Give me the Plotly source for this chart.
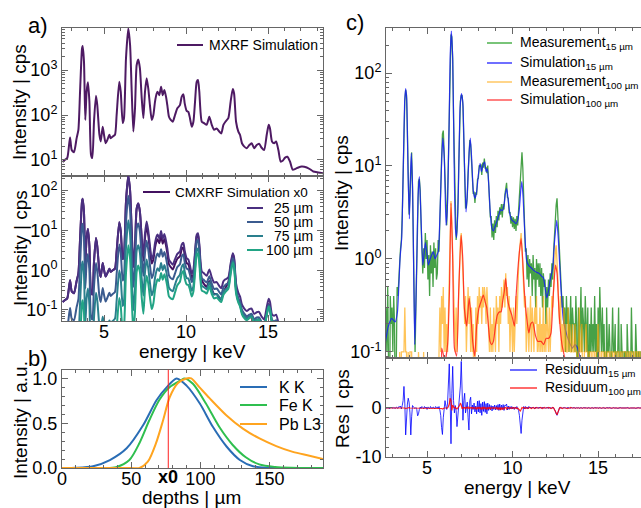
import plotly.graph_objects as go

# ---------------- Panel a (MXRF / CMXRF simulations) ----------------
energy_a = [2.48,2.62,2.76,2.93,3.03,3.17,3.33,3.44,3.54,3.66,
            3.70,3.78,3.86,3.94,4.02,4.11,4.21,4.29,4.39,4.51,
            4.59,4.72,4.80,4.92,5.00,5.10,5.20,5.33,5.41,5.53,
            5.67,5.77,5.93,6.02,6.14,6.22,6.34,6.48,6.59,6.69,
            6.79,6.89,6.99,7.09,7.19,7.30,7.40,7.50,7.60,7.70,
            7.80,7.91,8.01,8.11,8.21,8.27,8.37,8.48,8.58,8.68,
            8.78,8.86,8.96,9.07,9.19,9.33,9.47,9.63,9.74,9.84,
            9.92,10.04,10.14,10.24,10.35,10.45,10.55,10.65,10.73,10.81,
            10.96,11.10,11.26,11.42,11.57,11.71,11.87,12.03,12.15,12.28,
            12.40,12.58,12.72,12.85,12.93,13.05,13.19,13.29,13.41,13.54,
            13.70,13.86,14.00,14.15,14.31,14.45,14.61,14.76,14.92,15.04,
            15.12,15.24,15.37,15.49,15.63,15.77,15.89,16.04,16.18,16.34,
            16.50,16.67,16.85,17.05,17.36,17.56,17.76,18.07,18.37]

# log10 of intensity (cps)
mxrf_log = [0.95,1.00,1.04,1.50,1.22,1.17,1.48,1.67,2.52,3.48,
            3.54,3.19,1.89,2.52,2.73,2.30,1.11,1.04,1.85,2.43,
            2.22,1.56,1.41,1.74,1.56,1.37,1.44,1.56,1.48,1.52,
            1.56,2.00,2.74,2.52,1.82,1.93,3.26,3.93,3.56,2.52,
            1.63,2.15,3.11,3.24,3.04,2.37,1.93,2.52,2.82,2.59,
            2.22,1.89,2.00,2.30,2.48,2.52,2.44,2.63,2.44,2.56,
            2.41,2.22,1.96,1.89,1.85,2.00,2.15,2.22,2.41,2.46,
            2.26,2.09,2.07,1.93,1.74,1.85,2.30,2.74,2.78,2.52,
            1.85,1.82,1.78,1.96,1.78,1.67,1.70,1.63,1.59,1.78,
            1.85,1.93,2.30,2.58,2.48,1.85,1.63,1.56,1.37,1.30,
            1.26,1.33,1.37,1.26,1.33,1.36,1.27,1.22,1.56,1.78,
            1.70,1.41,1.37,1.41,1.22,0.96,0.98,1.05,1.07,0.96,
            0.78,0.80,0.83,0.85,0.83,0.79,0.74,0.72,0.70]

cm_x0_log = [-0.80,-0.75,-0.71,-0.25,-0.53,-0.58,-0.27,-0.08,0.77,1.73,
             1.80,1.46,0.17,0.82,1.04,0.62,-0.56,-0.61,0.21,0.81,
             0.61,-0.03,-0.17,0.18,0.01,-0.16,-0.08,0.04,-0.04,0.00,
             0.04,0.47,1.21,0.99,0.28,0.39,1.72,2.38,2.01,0.97,
             0.08,0.59,1.55,1.68,1.47,0.80,0.24,0.81,1.11,0.88,
             0.50,0.17,0.27,0.57,0.74,0.78,0.68,0.87,0.67,0.79,
             0.62,0.43,0.15,0.08,0.02,0.16,0.29,0.35,0.53,0.57,
             0.37,0.18,0.15,0.00,-0.20,-0.10,0.38,0.85,0.90,0.60,
             -0.25,-0.35,-0.42,-0.27,-0.47,-0.60,-0.60,-0.70,-0.74,-0.55,
             -0.45,-0.30,0.10,0.40,0.28,-0.45,-0.75,-0.85,-1.06,-1.15,
             -1.22,-1.17,-1.16,-1.30,-1.26,-1.25,-1.37,-1.44,-1.10,-0.85,
             -0.95,-1.30,-1.33,-1.30,-1.50,-1.75,-1.75,-1.70,-1.70,-1.80,
             -2.0,-2.0,-2.0,-2.0,-2.0,-2.0,-2.1,-2.1,-2.1]

cm25_log = [-0.80,-0.75,-0.71,-0.25,-0.53,-0.58,-0.27,-0.08,0.77,1.73,
            1.80,1.46,0.17,0.82,1.04,0.62,-0.56,-0.61,0.21,0.81,
            0.61,-0.03,-0.17,0.18,0.01,-0.16,-0.08,0.04,-0.04,0.00,
            0.04,0.47,1.21,0.99,0.28,0.39,1.72,2.38,2.01,0.97,
            0.08,0.59,1.55,1.68,1.47,0.80,0.36,0.93,1.23,1.00,
            0.62,0.29,0.39,0.69,0.86,0.90,0.80,0.99,0.79,0.91,
            0.74,0.55,0.27,0.20,0.14,0.28,0.41,0.47,0.65,0.69,
            0.49,0.30,0.27,0.12,-0.08,0.02,0.46,0.89,0.93,0.66,
            -0.03,-0.08,-0.14,0.02,-0.18,-0.31,-0.30,-0.40,-0.45,-0.28,
            -0.23,-0.18,0.17,0.43,0.32,-0.33,-0.57,-0.66,-0.87,-0.96,
            -1.03,-0.98,-0.97,-1.10,-1.06,-1.05,-1.17,-1.24,-0.93,-0.72,
            -0.80,-1.11,-1.15,-1.12,-1.32,-1.60,-1.58,-1.52,-1.51,-1.63,
            -1.82,-1.81,-1.79,-1.78,-1.82,-1.87,-1.93,-1.96,-2.00]

cm50_log = [-1.55,-1.49,-1.43,-0.95,-1.22,-1.26,-0.93,-0.73,0.13,1.11,
            1.17,0.83,-0.46,0.19,0.41,-0.01,-1.18,-1.24,-0.42,0.18,
            -0.02,-0.66,-0.80,-0.45,-0.62,-0.79,-0.70,-0.57,-0.65,-0.60,
            -0.55,-0.10,0.65,0.44,-0.26,-0.14,1.20,1.88,1.51,0.47,
            -0.42,0.09,1.05,1.18,0.97,0.30,-0.14,0.44,0.74,0.51,
            0.13,-0.20,-0.09,0.20,0.38,0.42,0.34,0.53,0.34,0.46,
            0.31,0.13,-0.13,-0.20,-0.23,-0.08,0.08,0.15,0.35,0.40,
            0.20,0.04,0.02,-0.11,-0.30,-0.18,0.27,0.72,0.76,0.49,
            -0.20,-0.25,-0.31,-0.15,-0.34,-0.47,-0.46,-0.55,-0.61,-0.43,
            -0.37,-0.32,0.04,0.30,0.19,-0.46,-0.71,-0.79,-1.00,-1.09,
            -1.16,-1.12,-1.10,-1.24,-1.19,-1.19,-1.31,-1.39,-1.08,-0.87,
            -0.95,-1.25,-1.29,-1.26,-1.45,-1.72,-1.70,-1.64,-1.62,-1.74,
            -1.93,-1.92,-1.90,-1.89,-1.93,-1.98,-2.04,-2.07,-2.10]

cm75_log = [-2.65,-2.57,-2.50,-2.00,-2.26,-2.28,-1.93,-1.71,-0.84,0.15,
            0.22,-0.10,-1.37,-0.70,-0.46,-0.86,-2.01,-2.05,-1.20,-0.57,
            -0.76,-1.40,-1.53,-1.17,-1.34,-1.50,-1.41,-1.27,-1.34,-1.28,
            -1.22,-0.77,-0.01,-0.22,-0.90,-0.78,0.57,1.26,0.90,-0.13,
            -1.01,-0.48,0.49,0.63,0.44,-0.22,-0.64,-0.04,0.27,0.05,
            -0.31,-0.63,-0.51,-0.19,0.00,0.05,-0.02,0.18,0.00,0.13,
            -0.01,-0.19,-0.44,-0.50,-0.53,-0.36,-0.20,-0.11,0.09,0.15,
            -0.04,-0.20,-0.21,-0.34,-0.52,-0.40,0.06,0.51,0.55,0.29,
            -0.39,-0.43,-0.48,-0.31,-0.50,-0.62,-0.60,-0.68,-0.73,-0.55,
            -0.49,-0.42,-0.05,0.22,0.11,-0.54,-0.78,-0.86,-1.07,-1.15,
            -1.22,-1.17,-1.15,-1.28,-1.24,-1.23,-1.35,-1.42,-1.11,-0.91,
            -0.99,-1.29,-1.33,-1.30,-1.49,-1.76,-1.74,-1.68,-1.66,-1.78,
            -1.97,-1.96,-1.94,-1.93,-1.97,-2.02,-2.08,-2.11,-2.14]

cm100_log = [-3.65,-3.57,-3.49,-2.99,-3.25,-3.26,-2.91,-2.70,-1.82,-0.83,
             -0.76,-1.07,-2.33,-1.66,-1.41,-1.80,-2.94,-2.97,-2.11,-1.47,
             -1.65,-2.27,-2.38,-2.00,-2.15,-2.29,-2.16,-2.01,-2.07,-2.01,
             -1.94,-1.48,-0.70,-0.90,-1.57,-1.44,-0.08,0.63,0.29,-0.72,
             -1.58,-1.03,-0.04,0.12,-0.05,-0.69,-1.10,-0.47,-0.14,-0.34,
             -0.68,-0.98,-0.84,-0.50,-0.29,-0.23,-0.27,-0.07,-0.24,-0.10,
             -0.24,-0.41,-0.66,-0.71,-0.73,-0.56,-0.38,-0.29,-0.08,-0.02,
             -0.21,-0.36,-0.37,-0.49,-0.66,-0.54,-0.07,0.38,0.43,0.17,
             -0.51,-0.54,-0.59,-0.41,-0.60,-0.71,-0.69,-0.76,-0.80,-0.62,
             -0.55,-0.47,-0.10,0.18,0.07,-0.58,-0.82,-0.91,-1.11,-1.20,
             -1.26,-1.21,-1.19,-1.32,-1.27,-1.26,-1.37,-1.44,-1.13,-0.92,
             -1.00,-1.30,-1.34,-1.31,-1.50,-1.78,-1.76,-1.70,-1.68,-1.80,
             -1.99,-1.98,-1.96,-1.95,-1.99,-2.04,-2.10,-2.13,-2.16]

# ---------------- Panel b (depth profiles) ----------------
depth_kk = [0,10,22.5,34.6,46.7,58.7,68.4,75.6,82.8,90,99.6,109,118.9,128.5,138,150,170,188.6]
int_kk = [0,0.002,0.02,0.089,0.22,0.48,0.76,0.90,1.0,0.92,0.72,0.46,0.24,0.09,0.02,0.003,0,0]
depth_fe = [0,30,39,48.7,56,63,70.3,77.5,86,88.5,94.6,104,113.6,123.2,132.8,142.5,154,166,188.6]
int_fe = [0,0,0.01,0.09,0.28,0.53,0.76,0.90,0.98,1.0,0.94,0.72,0.46,0.26,0.12,0.04,0.012,0.003,0]
depth_pb = [0,50,56,62,68,73,77.8,83.8,89.8,93.4,99.4,106.6,118.7,130.7,142.7,154.8,166.8,178.8,188.6]
int_pb = [0,0,0,0.07,0.28,0.53,0.79,0.95,1.0,1.0,0.90,0.78,0.59,0.44,0.33,0.245,0.18,0.137,0.10]
x0_depth = 76.8

# ---------------- Panel c (measurement vs simulation) ----------------
sim15_E = [2.54,2.74,2.93,3.13,3.27,3.42,3.52,3.62,3.69,3.75,
           3.81,3.89,3.97,4.03,4.08,4.16,4.22,4.28,4.34,4.40,
           4.47,4.55,4.65,4.75,4.82,4.90,4.98,5.08,5.18,5.27,
           5.37,5.47,5.57,5.66,5.76,5.86,5.92,6.01,6.11,6.19,
           6.29,6.35,6.42,6.50,6.58,6.66,6.73,6.83,6.93,7.01,
           7.09,7.18,7.28,7.36,7.46,7.53,7.61,7.71,7.81,7.90,
           8.00,8.10,8.18,8.27,8.37,8.45,8.53,8.61,8.68,8.78,
           8.88,9.00,9.10,9.20,9.30,9.40,9.50,9.58,9.66,9.75,
           9.85,9.97,10.10,10.20,10.30,10.40,10.48,10.54,10.62,10.72,
           10.83,10.95,11.10,11.25,11.40,11.55,11.70,11.80,11.90,12.00,
           12.10,12.20,12.35,12.45,12.58,12.68,12.80,12.97,13.10,13.30,
           13.50,13.65,13.80,14.00,14.30,15.00,16.00,17.60]
sim15_I = [0.12,0.19,0.23,0.21,0.27,1.0,1.7,12,49,68,
           53,8,2.7,8,13.7,5.3,0.67,0.12,0.3,1.0,
           4.5,7.7,2.7,0.86,1.1,1.5,1.2,0.86,1.0,1.1,
           1.2,1.0,1.1,1.2,3.2,12,20,12,2.3,3.5,
           28,144,282,144,12,2.1,1.7,5.3,42,60,
           49,12,3.2,5.3,14,20,12,5.3,4.5,5.3,
           8,10.7,8.7,10.2,11.1,8.7,9.4,6.2,3.5,2.2,
           2.0,2.3,2.6,3.0,3.4,3.3,3.8,5.0,5.7,4.2,
           3.0,2.6,2.5,2.4,2.6,3.5,5.5,6.8,4.5,1.8,
           0.95,0.85,0.80,0.75,0.72,0.70,0.65,0.63,0.50,0.38,
           0.45,0.60,0.80,1.5,2.6,1.6,0.6,0.22,0.17,0.13,
           0.11,0.12,0.11,0.08,0.06,0.05,0.04,0.04]

sim100_E = [2.60,5.70,5.86,6.05,6.20,6.31,6.40,6.50,6.60,6.73,
            6.85,6.99,7.09,7.18,7.32,7.46,7.55,7.67,7.79,7.90,
            8.04,8.16,8.29,8.39,8.49,8.59,8.68,8.78,8.88,9.00,
            9.11,9.23,9.33,9.42,9.52,9.60,9.70,9.81,9.95,10.11,
            10.20,10.36,10.50,10.59,10.69,10.83,10.95,11.06,11.18,11.34,
            11.47,11.67,11.82,11.96,12.12,12.25,12.39,12.51,12.60,12.74,
            12.89,13.03,13.17,13.40,17.60]
sim100_I = [0.02,0.03,0.11,0.08,0.12,0.45,4.0,1.0,0.11,0.09,
            0.45,1.8,1.0,0.30,0.19,0.38,0.27,0.13,0.09,0.19,
            0.30,0.35,0.41,0.35,0.30,0.19,0.13,0.12,0.13,0.19,
            0.25,0.27,0.27,0.35,0.45,0.62,0.38,0.30,0.25,0.19,
            0.38,1.0,1.66,1.0,0.45,0.23,0.16,0.20,0.21,0.15,
            0.13,0.13,0.12,0.14,0.14,0.16,0.44,0.86,0.70,0.23,
            0.12,0.09,0.07,0.05,0.03]

# measured channels: start 2.60 keV, step 0.05 keV (20 channels per row = 1 keV)
chan_start = 2.60
chan_step = 0.05
meas15 = [0.3,0.1,0.5,0.2,0,0.4,0.2,0.3,0.1,0.4,0.2,0,0.3,0.5,0.4,0.7,0.9,1.3,1.6,3.0,
          8.5,31,50,66,58,24,7.5,3.0,4.8,12,14,5.6,1.3,0.4,0.1,0.3,1.1,3.0,6.8,7.3,
          5.5,2.4,1.5,0.7,1.3,0.8,1.9,1.0,1.6,0.6,1.1,0.4,1.4,0.7,1.2,0.5,1.5,0.8,1.3,0.6,
          0.7,1.6,1.2,3.3,6.5,12,22,24,14,6.5,2.8,2.3,4.5,13,38,150,260,245,140,33,
          8.5,2.2,1.6,2.0,3.2,9.5,30,50,58,57,44,21,10,3.5,3.6,4.6,8.5,12.5,19,17,
          12,9.3,5.0,5.3,4.0,5.2,4.9,7.2,7.4,10.2,9.8,10.4,8.0,10.9,9.6,12,9.5,9.6,8.4,10.1,
          6.0,5.0,2.8,2.9,1.7,2.4,1.6,2.6,1.9,2.9,2.2,3.3,2.6,3.6,3.0,3.9,2.8,3.9,3.4,4.9,
          5.8,6.6,4.6,4.5,3.1,3.2,2.4,2.9,2.2,2.8,2.1,2.7,2.0,2.9,2.3,3.4,4.2,6.5,10,14,
          9.5,4.5,2.6,1.2,1.3,0.6,1.1,0.5,1.0,0.7,0.9,0.4,1.1,0.6,0.8,0.3,1.0,0.6,0.9,0.5,
          0.9,0.4,0.8,0.3,0.7,0.5,0.6,0.2,0.5,0.3,0.6,0.4,0.7,0.5,0.9,0.6,1.2,1.8,2.9,3.8,
          4.5,2.8,1.6,1.0,0.7,0.5,0.3,0.4,0.2,0.3,0.1,0.4,0.2,0.3,0.1,0.2,0.4,0.1,0.3,0.2,
          0.2,0.1,0.4,0.2,0,0.3,0.1,0.2,0.5,0.1,0.3,0.2,0.1,0.4,0.2,0.1,0.3,0,0.2,0.1,
          0.3,0.1,0.2,0.1,0.4,0.1,0.2,0,0.3,0.1,0.5,0.2,0.1,0.3,0.1,0.2,0.1,0,0.3,0.1,
          0.1,0.2,0.1,0,0.1,0.3,0.1,0.1,0.2,0,0.1,0.1,0.3,0.1,0,0.2,0.1,0.1,0,0.1,
          0.1,0,0.2,0.1,0.1,0,0.1,0.3,0.1,0.1,0,0.1,0.2,0.1,0,0.1,0.1,0,0.1,0.1]
meas100 = [0,0,0,0,0,0,0,0,0,0,0,0,0,0,0,0,0.1,0,0.1,0.1,
           0.1,0.1,0.3,0.1,0.1,0,0.1,0,0.1,0.1,0.1,0,0,0,0,0,0,0,0.1,0,
           0,0,0,0,0.1,0,0,0,0,0,0,0,0,0,0,0,0,0,0,0,
           0,0,0.1,0.3,0.1,0.4,0.2,0.5,0.1,0.3,0.1,0.2,0.1,0.3,0.5,2.2,4.2,2.5,1.1,0.4,
           0.2,0.1,0.3,0.1,0.2,0.5,0.9,1.6,1.9,1.2,0.8,0.4,0.2,0.4,0.1,0.3,0.5,0.2,0.4,0.1,
           0.3,0.1,0.2,0,0.1,0.3,0.1,0.4,0.2,0.5,0.3,0.4,0.2,0.5,0.3,0.5,0.4,0.2,0.5,0.3,
           0.2,0.1,0.3,0.1,0.2,0.1,0.3,0.2,0.1,0.4,0.2,0.3,0.1,0.4,0.2,0.5,0.3,0.4,0.6,0.3,
           0.7,0.4,0.5,0.2,0.4,0.1,0.3,0.2,0.1,0.3,0.1,0.2,0.4,0.2,0.5,0.8,1.2,1.6,1.9,1.3,
           0.9,0.5,0.3,0.4,0.1,0.2,0.3,0.1,0.2,0.4,0.1,0.3,0.2,0.1,0.3,0.2,0.4,0.1,0.2,0.1,
           0.3,0.1,0.2,0.1,0.4,0.1,0.2,0.1,0.3,0.2,0.1,0.3,0.1,0.2,0.4,0.3,0.5,0.8,1.2,1.4,
           1.0,0.6,0.3,0.2,0.4,0.1,0.2,0.1,0.3,0.1,0.2,0.1,0.1,0.3,0.1,0.2,0.1,0.1,0.2,0.1,
           0.1,0.2,0.1,0.1,0,0.1,0.3,0.1,0.1,0.2,0.1,0,0.1,0.1,0.2,0.1,0.1,0,0.1,0.1,
           0.1,0,0.1,0.1,0.1,0,0.1,0.1,0.2,0.1,0.1,0,0.1,0.1,0.1,0,0.1,0.1,0,0.1,
           0.1,0.1,0,0.1,0.1,0.1,0,0.1,0.1,0,0.1,0.1,0.1,0,0.1,0.1,0,0.1,0.1,0.1,
           0.1,0,0.1,0.1,0,0.1,0.1,0.1,0,0.1,0.1,0,0.1,0.1,0.1,0,0.1,0.1,0,0.1]
res15 = [0.1,-0.1,0.2,0,-0.2,0.1,0,0.2,-0.1,0.1,0,-0.1,0.2,0.1,-0.1,0.3,0.2,0.4,-0.2,0.5,
         1.5,4.4,1.0,-5.5,-1.5,0.8,2.0,1.2,-1.0,-5.5,-1.8,0.5,0.2,0.1,-0.1,0.1,-0.3,-1.6,-1.2,-0.3,
         0.2,-0.1,0.3,0.1,-0.2,0.3,0,0.2,-0.3,0.2,0.1,-0.2,0.3,0,-0.1,0.2,0.1,-0.2,0.3,0.1,
         0.2,-0.1,0.3,-0.4,-1.5,-4.0,-5.4,-2.0,0.8,1.5,0.4,-0.3,1.0,4.0,9.0,2.0,-7.3,3.0,8.5,1.5,
         -1.0,0.5,-0.5,-3.8,-1.2,0.8,2.0,4.5,9.5,3.0,-2.5,1.5,3.0,-1.0,0.5,1.2,-2.0,-4.5,1.5,2.2,
         -1.2,0.6,-0.3,1.0,-0.8,0.4,-1.2,1.4,-0.8,1.5,-1.0,0.9,-1.5,1.2,-0.7,1.3,-0.9,0.9,-1.2,1.0,
         -0.5,0.7,-0.4,0.5,-0.6,0.4,-0.3,0.6,-0.4,0.5,-0.3,0.7,-0.5,0.8,-0.4,0.6,-0.3,0.7,-0.5,0.6,
         0.5,0.8,-0.4,0.4,-0.3,0.3,-0.2,0.3,-0.2,0.2,-0.3,0.2,-0.1,0.3,-0.2,-0.5,-1.5,-3.5,-5.2,-2.5,
         -0.8,0.3,-0.2,0.3,-0.1,0.2,-0.2,0.3,0,0.2,-0.1,0.2,0,0.1,-0.2,0.2,0,0.1,-0.1,0.2,
         0,0.1,-0.1,0.2,0,0.1,-0.1,0.1,0,0.2,-0.1,0.1,0,0.1,-0.1,0.2,0,-0.2,-0.6,-1.2,
         -1.5,-1.0,-0.4,0.1,0,0.1,-0.1,0.1,0,0.1,0,-0.1,0.1,0,0.1,-0.1,0,0.1,0,0.1,
         0.1,0,-0.1,0.1,0,0.1,-0.1,0,0.1,0,-0.1,0.1,0,0,0.1,-0.1,0,0.1,0,-0.1,
         0,0.1,0,-0.1,0.1,0,0,0.1,-0.1,0,0.1,0,-0.1,0,0.1,0,0,-0.1,0.1,0,
         0,0.1,0,0,-0.1,0,0.1,0,0,0.1,0,-0.1,0,0,0.1,0,0,0,-0.1,0,
         0,0,0.1,0,0,-0.1,0,0,0.1,0,0,0,-0.1,0,0,0.1,0,0,0,0]
res100 = [0]*20 + \
         [0,0.1,0,-0.1,0,0,0,0.1,0,0,0,0,0,0,0,0,0,0,0,0] + [0]*20 + \
         [0,0,0,0,0,-0.1,-0.2,0,0,0,0,0,0,0.3,0.8,2.0,1.5,-0.5,0.6,0.2,
          0,0.1,0,-0.2,0,0.2,0.5,1.0,0.6,-0.2,0.1,0,0.1,-0.1,0.1,0,0.2,-0.2,0.1,0,
          0.1,-0.1,0.1,0,-0.1,0.1,-0.2,0.1,-0.1,0.2,-0.2,0.1,-0.3,0.2,-0.1,0.2,-0.2,0.1,-0.3,0.1,
          -0.1,0.1,-0.2,0.1,0,-0.1,0.1,0,-0.1,0.1,-0.2,0.1,-0.3,0.1,-0.4,0.1,-0.3,0,-0.2,0.1,
          0.1,-0.2,0.1,0,-0.1,0.1,0,-0.1,0.1,0,-0.1,0.1,0,-0.1,0,-0.2,-0.4,-0.6,-0.3,0.1,
          0,0.1,0,-0.1,0.1,0,-0.1,0,0.1,0,-0.1,0,0.1,0,-0.1,0,0.1,0,0,-0.1,
          0,0.1,0,-0.1,0,0.1,0,0,-0.1,0,0.1,0,0,-0.1,0,0.1,0,-0.3,-0.7,-1.2,
          -1.4,-0.9,-0.4,0,0.1,0,-0.1,0,0,0.1,0,0,-0.1,0,0,0,0.1,0,0,0] + [0]*80

chan_E = [round(chan_start + chan_step * i, 3) for i in range(len(meas15))]
floor = 0.01  # zero counts drawn below the log axis

# ---------------- Figure ----------------
W, H = 641, 508
def PX(x): return x / W
def PY(y): return 1 - y / H

FONT = "Liberation Sans, Arial, sans-serif"
FRAME = "#666666"
fig = go.Figure()

def tolin(v): return [10 ** a for a in v]

fig.add_trace(go.Scatter(x=energy_a, y=tolin(mxrf_log), mode="lines", line=dict(color="#4e1a63", width=2, shape="spline", smoothing=0.6), xaxis="x", yaxis="y", showlegend=False))
for vals, col in [(cm_x0_log, "#431160"), (cm25_log, "#4a2f80"), (cm50_log, "#3b5b8f"),
                  (cm75_log, "#2a7f8d"), (cm100_log, "#22a485")]:
    fig.add_trace(go.Scatter(x=energy_a, y=tolin(vals), mode="lines", line=dict(color=col, width=2, shape="spline", smoothing=0.6), xaxis="x2", yaxis="y2", showlegend=False))

for d, v, col in [(depth_kk, int_kk, "#2a6db5"), (depth_fe, int_fe, "#2fbf4f"), (depth_pb, int_pb, "#ffa41f")]:
    fig.add_trace(go.Scatter(x=d, y=v, mode="lines", line=dict(color=col, width=2, shape="spline", smoothing=0.8), xaxis="x3", yaxis="y3", showlegend=False))

fig.add_trace(go.Scatter(x=chan_E, y=[v if v > 0 else floor for v in meas15], mode="lines", line=dict(color="rgba(0,125,0,0.72)", width=1.3), xaxis="x4", yaxis="y4", showlegend=False))
fig.add_trace(go.Scatter(x=sim15_E, y=sim15_I, mode="lines", line=dict(color="rgba(20,20,255,0.8)", width=1.2, shape="spline", smoothing=0.5), xaxis="x4", yaxis="y4", showlegend=False))
fig.add_trace(go.Scatter(x=chan_E, y=[v if v > 0 else floor for v in meas100], mode="lines", line=dict(color="rgba(255,165,0,0.65)", width=1.3), xaxis="x4", yaxis="y4", showlegend=False))
fig.add_trace(go.Scatter(x=sim100_E, y=sim100_I, mode="lines", line=dict(color="rgba(255,20,20,0.8)", width=1.2, shape="spline", smoothing=0.5), xaxis="x4", yaxis="y4", showlegend=False))
fig.add_trace(go.Scatter(x=chan_E, y=res15, mode="lines", line=dict(color="rgba(0,0,255,0.8)", width=1), xaxis="x5", yaxis="y5", showlegend=False))
fig.add_trace(go.Scatter(x=chan_E, y=res100, mode="lines", line=dict(color="rgba(255,0,0,0.85)", width=1.2), xaxis="x5", yaxis="y5", showlegend=False))

tickfont = dict(family=FONT, size=18, color="black")
def axbase(**kw):
    d = dict(showline=True, linecolor=FRAME, linewidth=1, mirror="allticks", ticks="inside",
             ticklen=6, tickcolor=FRAME, showgrid=False, zeroline=False, tickfont=tickfont,
             automargin=False)
    d.update(kw)
    return d

minor_lin = lambda dt: dict(ticks="inside", ticklen=3, tickcolor=FRAME, dtick=dt, tick0=0, showgrid=False)
minor_log = dict(ticks="inside", ticklen=3, tickcolor=FRAME, dtick="D1", showgrid=False)

xa_dom = [PX(62), PX(323)]
xc_dom = [PX(386), 1.0]
sup = lambda n: "10<sup>%s</sup>" % n
XSO = -6  # pull x tick labels closer to the axis

fig.update_layout(
    template="none",
    width=W, height=H, margin=dict(l=0, r=0, t=0, b=0, pad=0), autosize=False,
    paper_bgcolor="white", plot_bgcolor="white", showlegend=False,
    font=dict(family=FONT, color="black"),
    xaxis=axbase(domain=xa_dom, anchor="y", range=[2.44, 18.35], showticklabels=False, tickvals=[5, 10, 15], minor=minor_lin(1)),
    yaxis=axbase(domain=[PY(176), PY(28)], anchor="x", type="log", range=[0.64, 3.94],
                 tickvals=[10, 100, 1000], ticktext=[sup(1), sup(2), sup(3)], minor=minor_log),
    xaxis2=axbase(domain=xa_dom, anchor="y2", range=[2.44, 18.35], tickvals=[5, 10, 15], minor=minor_lin(1), ticklabelstandoff=XSO),
    yaxis2=axbase(domain=[PY(321), PY(176)], anchor="x2", type="log", range=[-1.28, 2.375],
                  tickvals=[0.1, 1, 10, 100], ticktext=[sup("-1"), sup(0), sup(1), sup(2)], minor=minor_log),
    xaxis3=axbase(domain=xa_dom, anchor="y3", range=[0, 188.6], tickvals=[0, 50, 100, 150], minor=minor_lin(10), ticklabelstandoff=XSO),
    yaxis3=axbase(domain=[PY(468), PY(369.5)], anchor="x3", range=[0, 1.1], tickvals=[0, 0.5, 1.0],
                  ticktext=["0.0", "0.5", "1.0"], minor=minor_lin(0.1)),
    xaxis4=axbase(domain=xc_dom, anchor="y4", range=[2.60, 17.51], showticklabels=False, tickvals=[5, 10, 15], minor=minor_lin(1)),
    yaxis4=axbase(domain=[PY(358), PY(28)], anchor="x4", type="log", range=[-1.065, 2.484], mirror=False,
                  tickvals=[0.1, 1, 10, 100], ticktext=[sup("-1"), sup(0), sup(1), sup(2)], minor=minor_log),
    xaxis5=axbase(domain=xc_dom, anchor="y5", range=[2.60, 17.51], tickvals=[5, 10, 15], minor=minor_lin(1), ticklabelstandoff=XSO),
    yaxis5=axbase(domain=[PY(457), PY(358)], anchor="x5", range=[-10, 10.2], mirror=False,
                  tickvals=[-10, 0], ticktext=["-10", "0"], minor=minor_lin(2)),
)

ann = []
def text(x, y, s, size=14, xanchor="left", angle=0):
    ann.append(dict(x=PX(x), y=PY(y), xref="paper", yref="paper", text=s, showarrow=False,
                    xanchor=xanchor, yanchor="middle", textangle=angle,
                    font=dict(family=FONT, size=size, color="black")))
shapes = []
def legline(x0, x1, y, color, width=2):
    shapes.append(dict(type="line", xref="paper", yref="paper", x0=PX(x0), x1=PX(x1), y0=PY(y), y1=PY(y),
                       line=dict(color=color, width=width)))

# panel letters
text(38, 25, "a)", 22, "center")
text(38, 358, "b)", 22, "center")
text(355, 22, "c)", 22, "center")
# axis titles
text(20, 102, "Intensity | cps", 19, "center", -90)
text(20, 248, "Intensity | cps", 19, "center", -90)
text(20, 420, "Intensity | a.u.", 19, "center", -90)
text(193, 351, "energy | keV", 19, "center")
text(191, 497, "depths | µm", 19, "center")
text(341, 193, "Intensity | cps", 19, "center", -90)
text(342, 409, "Res | cps", 19, "center", -90)
text(517, 487, "energy | keV", 19, "center")

# legends
legline(177, 203, 45, "#4e1a63"); text(207, 45, "MXRF Simulation")
legline(143, 170, 192, "#431160"); text(173, 192, "CMXRF Simulation x0", 13.5)
for yy, lab, col in [(208, "25 µm", "#4a2f80"), (222, "50 µm", "#3b5b8f"), (236, "75 µm", "#2a7f8d"), (250, "100 µm", "#22a485")]:
    legline(247, 263, yy, col); text(315, yy, lab, 14, "right")
for yy, lab, col in [(387, "K K", "#2a6db5"), (405, "Fe K", "#2fbf4f"), (424, "Pb L3", "#ffa41f")]:
    legline(240, 267, yy, col); text(277, yy, lab, 16)
for yy, lab, col in [(43, "Measurement<sub>15 µm</sub>", "#79c479"), (63, "Simulation<sub>15 µm</sub>", "#6f6fff"),
                     (82, "Measurement<sub>100 µm</sub>", "#ffd58a"), (100, "Simulation<sub>100 µm</sub>", "#ff8080")]:
    legline(487, 512, yy, col); text(518, yy, lab, 14)
for yy, lab, col in [(370, "Residuum<sub>15 µm</sub>", "#3a3aff"), (388, "Residuum<sub>100 µm</sub>", "#ff3a3a")]:
    legline(510, 537, yy, col, 1.5); text(543, yy, lab, 14)

# x0 marker in panel b
shapes.append(dict(type="line", xref="x3", yref="y3", x0=x0_depth, x1=x0_depth, y0=0, y1=1.1,
                   line=dict(color="#ff2020", width=1)))
ann.append(dict(x=x0_depth, y=PY(477), xref="x3", yref="paper", text="<b>x0</b>", showarrow=False,
                xanchor="center", yanchor="middle", font=dict(family=FONT, size=18, color="black")))

fig.update_layout(annotations=ann, shapes=shapes)
fig.write_html("out.html")
